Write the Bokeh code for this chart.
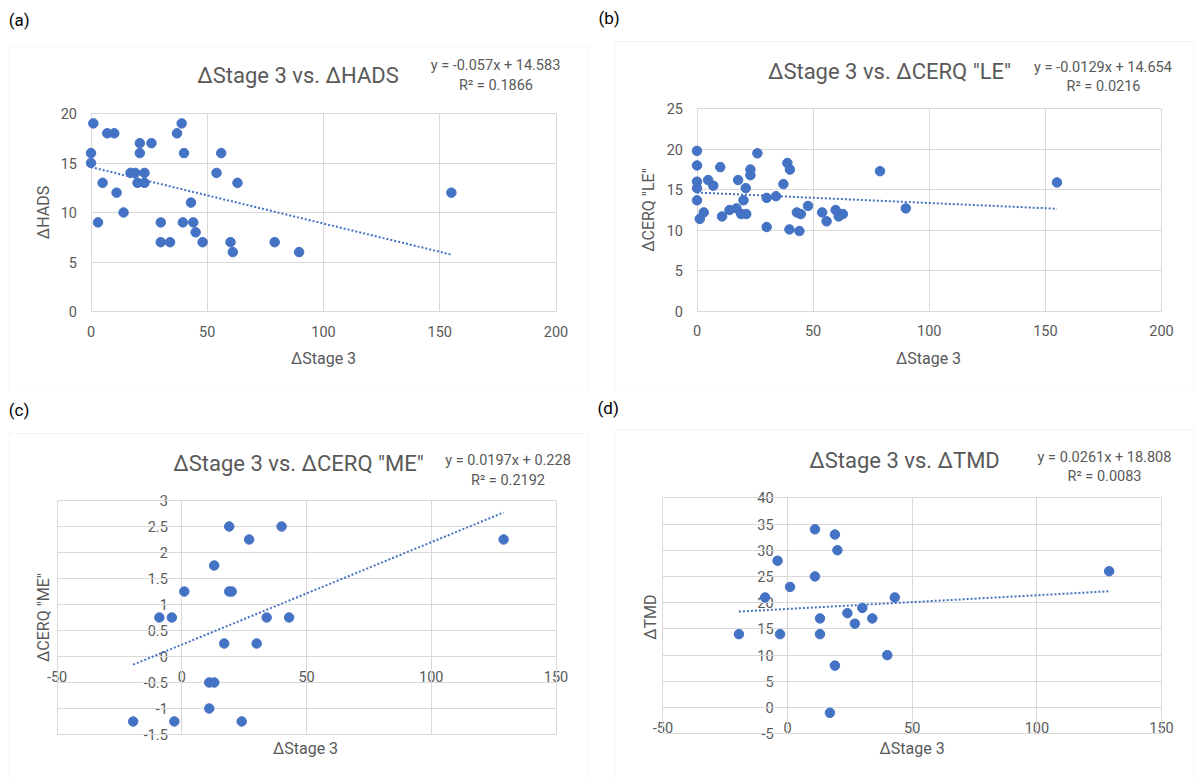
import numpy as np
from bokeh.plotting import figure
from bokeh.models import Label, BoxAnnotation, FixedTicker, CustomJSTickFormatter, Range1d
from bokeh.layouts import column, row
from bokeh.embed import file_html
from bokeh.resources import INLINE

# ---------------- data ----------------
# (a) dStage 3 vs dHADS
a_stage3 = [1, 0, 0, 5, 3, 7, 10, 11, 14, 17, 19, 23, 20, 23, 21, 21, 26, 30, 30, 34,
            37, 39, 40, 39.5, 43, 44, 45, 48, 54, 56, 60, 61, 63, 79, 89.5, 155]
a_hads = [19, 16, 15, 13, 9, 18, 18, 12, 10, 14, 14, 14, 13, 13, 17, 16, 17, 9, 7, 7,
          18, 19, 16, 9, 11, 9, 8, 7, 14, 16, 7, 6, 13, 7, 6, 12]

# (b) dStage 3 vs dCERQ "LE"
b_stage3 = [0, 0, 0, 0, 0, 1.2, 2.9, 4.8, 7, 10, 10.8, 14, 17, 17.7, 19, 20, 21, 21.2, 23, 23,
            26, 30, 30, 34, 37.2, 38.9, 40, 39.8, 43, 44.7, 44.1, 47.8, 53.9, 55.8, 59.7, 61,
            62.8, 78.8, 89.9, 155]
b_le = [19.8, 18.0, 16.0, 15.2, 13.7, 11.4, 12.2, 16.2, 15.5, 17.8, 11.7, 12.5, 12.7, 16.2,
        12.0, 13.7, 15.2, 12.0, 17.5, 16.8, 19.5, 14.0, 10.4, 14.2, 15.7, 18.3, 17.5, 10.1,
        12.2, 12.0, 9.9, 13.0, 12.2, 11.1, 12.5, 11.7, 12.0, 17.3, 12.7, 15.9]

# (c) dStage 3 vs dCERQ "ME"
c_stage3 = [-19.5, -9, -4, -3, 1, 11, 13, 11, 13, 17, 19, 19, 20, 24, 27, 30, 34, 40, 43, 129]
c_me = [-1.25, 0.75, 0.75, -1.25, 1.25, -0.5, -0.5, -1, 1.75, 0.25, 2.5, 1.25, 1.25, -1.25,
        2.25, 0.25, 0.75, 2.5, 0.75, 2.25]

# (d) dStage 3 vs dTMD
d_stage3 = [-19.5, -9, -4, -3, 1, 11, 11, 13, 13, 17, 19, 20, 19, 24, 27, 30, 34, 40, 43, 129]
d_tmd = [14, 21, 28, 14, 23, 34, 25, 17, 14, -1, 33, 30, 8, 18, 16, 19, 17, 10, 21, 26]

# trendline equations
slopes = [-0.057, -0.0129, 0.0197, 0.0261]
intercepts = [14.583, 14.654, 0.228, 18.808]
r_squared = [0.1866, 0.0216, 0.2192, 0.0083]

panel_tags = ["(a)", "(b)", "(c)", "(d)"]
titles = ["\u0394Stage 3 vs. \u0394HADS", "\u0394Stage 3 vs. \u0394CERQ \"LE\"",
          "\u0394Stage 3 vs. \u0394CERQ \"ME\"", "\u0394Stage 3 vs. \u0394TMD"]
x_title = "\u0394Stage 3"
y_titles = ["\u0394HADS", "\u0394CERQ \"LE\"", "\u0394CERQ \"ME\"", "\u0394TMD"]

x_ticks_ab = [0, 50, 100, 150, 200]
x_ticks_cd = [-50, 0, 50, 100, 150]
y_ticks_a = [0, 5, 10, 15, 20]
y_ticks_b = [0, 5, 10, 15, 20, 25]
y_ticks_c = [-1.5, -1, -0.5, 0, 0.5, 1, 1.5, 2, 2.5, 3]
y_ticks_d = [-5, 0, 5, 10, 15, 20, 25, 30, 35, 40]

# ---------------- style ----------------
FONT = "Roboto"
GRAY = "#595959"
BLUE = "#4472C4"
GRID = "#d9d9d9"


def make_panel(i, W, H, area, xticks, yticks, xs, ys, box, pos):
    # area: pixel box of the plot area inside this canvas (left, top, right, bottom)
    PL, PT, PR, PB = area
    x0, x1 = xticks[0], xticks[-1]
    y0, y1 = yticks[0], yticks[-1]
    sx = (x1 - x0) / (PR - PL)
    sy = (y1 - y0) / (PB - PT)

    def d(px, py):
        return (x0 + (px - PL) * sx, y1 - (py - PT) * sy)

    xl_, yt_ = d(0, 0)
    xr_, yb_ = d(W, H)
    p = figure(width=W, height=H, x_range=Range1d(xl_, xr_), y_range=Range1d(yb_, yt_),
               output_backend="svg", toolbar_location=None, title=None,
               min_border=0, min_border_left=0, min_border_right=0,
               min_border_top=0, min_border_bottom=0,
               border_fill_color="white", background_fill_color="white",
               outline_line_color=None)
    p.xaxis.ticker = FixedTicker(ticks=xticks)
    p.yaxis.ticker = FixedTicker(ticks=yticks)
    fmt = "return tick.toString();"
    for ax in (p.xaxis[0], p.yaxis[0]):
        ax.formatter = CustomJSTickFormatter(code=fmt)
        ax.fixed_location = 0
        ax.level = "underlay"
        ax.axis_line_color = "#cfcfcf"
        ax.major_tick_line_color = None
        ax.minor_tick_line_color = None
        ax.major_tick_out = 0
        ax.major_tick_in = 0
        ax.major_label_text_font = FONT
        ax.major_label_text_font_size = "14.5px"
        ax.major_label_text_color = GRAY
    p.xaxis.bounds = (x0, x1)
    p.yaxis.bounds = (y0, y1)
    p.xaxis.major_label_standoff = 14
    p.yaxis.major_label_standoff = 14
    p.xgrid.grid_line_color = GRID
    p.ygrid.grid_line_color = GRID
    p.xgrid.bounds = (x0, x1)
    p.ygrid.bounds = (y0, y1)
    p.xgrid.cross_bounds = (y0, y1)
    p.ygrid.cross_bounds = (x0, x1)

    # chart area border
    bl, br, bt, bb = box
    bx_l, by_t = d(bl, bt)
    bx_r, by_b = d(br, bb)
    p.add_layout(BoxAnnotation(left=bx_l, right=bx_r, top=by_t, bottom=by_b,
                               fill_color=None, line_color=GRID, line_width=1))

    # linear trend line
    xl = [min(xs), max(xs)]
    yl = [slopes[i] * v + intercepts[i] for v in xl]
    p.line(xl, yl, line_color=BLUE, line_width=2, line_dash="2 2")
    # points
    p.scatter(xs, ys, marker="circle", size=9.5, fill_color=BLUE, line_color=BLUE)

    def lab(txt, px, py, size, color=GRAY, align="center", angle=0.0):
        x, y = d(px, py)
        p.add_layout(Label(x=x, y=y, text=txt, text_font=FONT, text_font_size=size,
                           text_color=color, text_align=align, text_baseline="middle",
                           angle=angle))

    lab(panel_tags[i], pos["tag"][0], pos["tag"][1], "17px", color="#000000", align="left")
    lab(titles[i], pos["title"][0], pos["title"][1], "22px")
    lab(f"y = {slopes[i]}x + {intercepts[i]}", pos["eq1"][0], pos["eq1"][1], "14.5px")
    lab(f"R\u00b2 = {r_squared[i]}", pos["eq2"][0], pos["eq2"][1], "14.5px")
    lab(x_title, pos["xt"][0], pos["xt"][1], "16px")
    lab(y_titles[i], pos["yt"][0], pos["yt"][1], "16px", angle=np.pi / 2)
    return p


pa = make_panel(0, 596, 391, (90.5, 113, 555.5, 311), x_ticks_ab, y_ticks_a, a_stage3, a_hads,
                (8.5, 587.5, 45.5, 390.5),
                dict(tag=(8.3, 19), title=(297.5, 75), eq1=(495, 65), eq2=(495.5, 85),
                     xt=(323, 358), yt=(43, 212)))
pb = make_panel(1, 600, 391, (100.5, 108.3, 565, 310.7), x_ticks_ab, y_ticks_b, b_stage3, b_le,
                (18.5, 597.5, 41, 390.5),
                dict(tag=(2, 17.5), title=(293, 71), eq1=(506.5, 66.7), eq2=(507, 86),
                     xt=(332, 358), yt=(51.8, 209.5)))
pc = make_panel(2, 596, 388, (56.6, 109, 555.5, 343), x_ticks_cd, y_ticks_c, c_stage3, c_me,
                (8.5, 587.5, 42, 420),
                dict(tag=(8.3, 18), title=(298, 72), eq1=(507.5, 69), eq2=(507.5, 89),
                     xt=(305, 357), yt=(43.4, 226)))
pd_ = make_panel(3, 600, 388, (66.4, 106.3, 565, 342.3), x_ticks_cd, y_ticks_d, d_stage3, d_tmd,
                 (18.5, 597.5, 38, 420),
                 dict(tag=(1, 16), title=(308, 69), eq1=(508, 65.7), eq2=(508, 85),
                      xt=(315.6, 357), yt=(53.7, 225.7)))

layout = column(row(pa, pb), row(pc, pd_))
open("out.html", "w").write(file_html(layout, INLINE))
